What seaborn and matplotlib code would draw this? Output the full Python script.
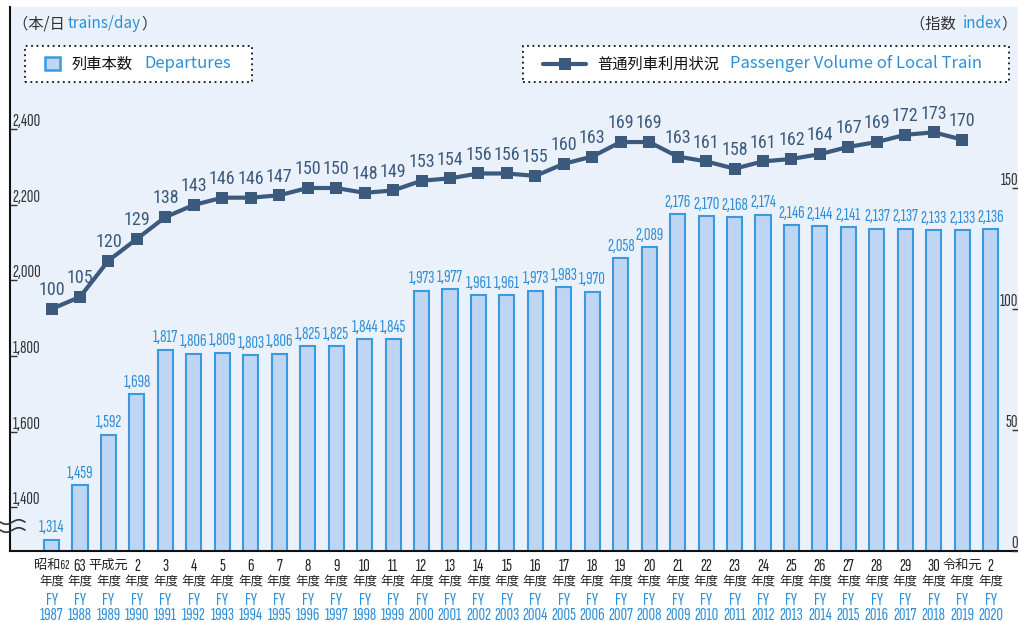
import numpy as np
import pandas as pd
import matplotlib.pyplot as plt
import seaborn as sns
from matplotlib.patches import Rectangle
from matplotlib.lines import Line2D
from matplotlib.offsetbox import AnchoredOffsetbox, HPacker, TextArea, DrawingArea

# data
fy_years = list(range(1987, 2021))
jp_years = ["昭和62", "63", "平成元"] + [str(i) for i in range(2, 31)] + ["令和元", "2"]
departures = [1314, 1459, 1592, 1698, 1817, 1806, 1809, 1803, 1806, 1825, 1825, 1844,
              1845, 1973, 1977, 1961, 1961, 1973, 1983, 1970, 2058, 2089, 2176, 2170,
              2168, 2174, 2146, 2144, 2141, 2137, 2137, 2133, 2133, 2136]
# passenger volume index (1987 = 100), no value for 2020
volume = [100, 105, 120, 129, 138, 143, 146, 146, 147, 150, 150, 148, 149, 153, 154,
          156, 156, 155, 160, 163, 169, 169, 163, 161, 158, 161, 162, 164, 167, 169,
          172, 173, 170]
left_ticks = [1400, 1600, 1800, 2000, 2200, 2400]
right_ticks = [0, 50, 100, 150]

# colours
BG = "#EAF1FA"
BAR_FILL = "#BED6F3"
BAR_EDGE = "#3A9AE0"
BLUE_TXT = "#2E8FD8"
NAVY = "#3B5A7E"
DARK = "#333333"

sns.set_style("white")
# narrow digits like the original, kanji from the CJK font
NUM_FONT = ["Sofia Sans Extra Condensed", "Roboto Condensed", "Noto Sans CJK JP", "DejaVu Sans"]
LINE_FONT = ["Roboto Condensed", "Sofia Sans Extra Condensed", "DejaVu Sans"]
JP_FONT = ["Noto Sans CJK JP", "DejaVu Sans"]
plt.rcParams["font.family"] = NUM_FONT

W, H = 1018, 622
fig = plt.figure(figsize=(W / 100, H / 100), dpi=100)
fig.patch.set_facecolor("white")


def px(x, y):
    return (x / W, 1 - y / H)


ax = fig.add_axes([10 / W, (H - 551) / H, (W - 10) / W, 544 / H])
ax.set_facecolor(BG)

df = pd.DataFrame({"year": [str(y) for y in fy_years], "departures": departures})
sns.barplot(data=df, x="year", y="departures", color=BAR_FILL, edgecolor=BAR_EDGE,
            linewidth=1.5, width=0.53, saturation=1, ax=ax)
ax.bar_label(ax.containers[0], labels=[f"{v:,}" for v in departures], padding=3,
             color=BLUE_TXT, fontsize=13, family=NUM_FONT)

ax.set_xlim(-1.46, 33.96)
ax.set_ylim(1284, 2723)
ax.set_xlabel("")
ax.set_ylabel("")

# left axis
ax.set_yticks(left_ticks)
ax.set_yticklabels([f"{v:,}" for v in left_ticks])
ax.tick_params(axis="y", direction="in", length=5, width=1, pad=-2, labelsize=13,
               colors=DARK, left=True)
for t in ax.yaxis.get_major_ticks():
    t.label1.set_ha("left")
    t.label1.set_va("bottom")

# bottom axis, line 1: japanese era year (kanji ones a bit smaller)
ax.set_xticks(range(len(fy_years)))
ax.set_xticklabels(jp_years)
ax.tick_params(axis="x", length=0, pad=5.5, labelsize=13, colors="#222222")
for t in ax.get_xticklabels():
    if not t.get_text().isdigit():
        t.set_fontsize(9.5)

# line 2: 年度
sec_jp = ax.secondary_xaxis("bottom")
sec_jp.set_xticks(range(len(fy_years)))
sec_jp.set_xticklabels(["年度"] * len(fy_years))
sec_jp.tick_params(axis="x", length=0, pad=17, labelsize=9, colors="#222222")
for t in sec_jp.get_xticklabels():
    t.set_fontfamily(JP_FONT)
sec_jp.spines["bottom"].set_visible(False)

# lines 3-4: FY year in blue
sec = ax.secondary_xaxis("bottom")
sec.set_xticks(range(len(fy_years)))
sec.set_xticklabels([f"FY\n{y}" for y in fy_years], linespacing=1.0)
sec.tick_params(axis="x", length=0, pad=30.5, labelsize=13, colors=BLUE_TXT)
sec.spines["bottom"].set_visible(False)

for s in ["top", "right"]:
    ax.spines[s].set_visible(False)
for s in ["left", "bottom"]:
    ax.spines[s].set_color("#111111")
    ax.spines[s].set_linewidth(1.5)

# right axis: passenger volume index
ax2 = ax.twinx()
idx = np.arange(len(volume))
sns.lineplot(x=idx, y=volume, ax=ax2, color=NAVY, linewidth=3, marker="s",
             markersize=9, markeredgewidth=0)
for i, v in zip(idx, volume):
    ax2.annotate(str(v), (i, v), xytext=(0, 7), textcoords="offset points",
                 ha="center", va="bottom", color=NAVY, fontsize=13, family=LINE_FONT)
ax2.set_ylim(0, 224.8)
ax2.set_yticks(right_ticks)
ax2.set_yticklabels([str(v) for v in right_ticks])
ax2.tick_params(axis="y", direction="in", length=4, width=1, pad=0, labelsize=13,
                colors=DARK)
for t in ax2.yaxis.get_major_ticks():
    t.label2.set_ha("right")
    t.label2.set_va("bottom")
for s in ax2.spines.values():
    s.set_visible(False)
ax2.set_ylabel("")


# unit headers
def header(parts, loc, anchor):
    boxes = [TextArea(t, textprops=dict(color=c, size=11, family=JP_FONT)) for t, c in parts]
    box = AnchoredOffsetbox(loc=loc, child=HPacker(children=boxes, sep=0, pad=0),
                            bbox_to_anchor=anchor, bbox_transform=fig.transFigure,
                            frameon=False, pad=0, borderpad=0)
    fig.add_artist(box)


header([("（本/日 ", DARK), ("trains/day", BLUE_TXT), ("）", DARK)], "center left", px(13, 24))
header([("（指数  ", DARK), ("index", BLUE_TXT), ("）", DARK)], "center right", px(1017, 24))


# legend boxes
def legend_box(x0, x1, handle, jp, en, hx):
    fig.add_artist(Rectangle(px(x0, 82), (x1 - x0) / W, 36 / H, transform=fig.transFigure,
                             facecolor="white", edgecolor="#111111", linestyle=(0, (1, 2)),
                             linewidth=1.3))
    t1 = TextArea(jp, textprops=dict(color="#111111", size=11, family=JP_FONT))
    t2 = TextArea(en, textprops=dict(color=BLUE_TXT, size=12, family=JP_FONT))
    pack = HPacker(children=[handle, t1, t2], sep=8, pad=0, align="center")
    fig.add_artist(AnchoredOffsetbox(loc="center left", child=pack, bbox_to_anchor=px(hx, 64),
                                     bbox_transform=fig.transFigure, frameon=False,
                                     pad=0, borderpad=0))


da1 = DrawingArea(12, 10)
da1.add_artist(Rectangle((0.5, 0.5), 11, 9.5, facecolor=BAR_FILL, edgecolor=BAR_EDGE, linewidth=1.8))
legend_box(25, 252, da1, "列車本数", "Departures", 44)

da2 = DrawingArea(31, 10)
da2.add_artist(Line2D([0, 31], [5, 5], color=NAVY, linewidth=3))
da2.add_artist(Line2D([15.5], [5], color=NAVY, marker="s", markersize=9, markeredgewidth=0))
legend_box(523, 1009, da2, "普通列車利用状況", "Passenger Volume of Local Train", 543)

# axis break mark on the left spine
wx = np.linspace(0, 25, 60)
for y0 in (522, 530):
    wy = y0 + 2.2 * np.sin(wx / 25 * 2 * np.pi)
    fig.add_artist(Line2D(wx / W, 1 - wy / H, transform=fig.transFigure,
                          color="#333333", linewidth=1.2))

fig.savefig("out.png", dpi=100, facecolor="white")
